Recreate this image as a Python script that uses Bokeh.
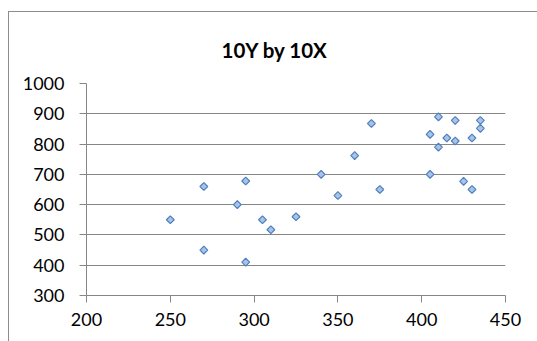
import math
from bokeh.plotting import figure
from bokeh.models import Range1d, FixedTicker
from bokeh.embed import file_html
from bokeh.resources import INLINE

title_text = "10Y by 10X"
x_vals = [250, 270, 270, 290, 295, 295, 305, 310, 325, 340, 350, 360, 370, 375,
          405, 405, 410, 410, 415, 420, 420, 425, 430, 430, 435, 435]
y_vals = [550, 660, 450, 600, 678, 410, 550, 517, 560, 700, 630, 762, 868, 650,
          832, 700, 890, 790, 820, 878, 810, 677, 820, 650, 878, 852]
x_ticks = [200, 250, 300, 350, 400, 450]
y_ticks = [300, 400, 500, 600, 700, 800, 900, 1000]

GRAY = "#868686"
FONT = "Lato"

p = figure(width=529, height=330, output_backend="svg", toolbar_location=None,
           x_range=Range1d(200, 450), y_range=Range1d(300, 1000),
           min_border_left=77, min_border_right=33, min_border_top=71, min_border_bottom=47,
           title=title_text)
p.margin = (11, 0, 0, 8)
p.styles = {"border-left": "1px solid #8c8c8c", "border-top": "1px solid #8c8c8c"}

p.title.text_font = FONT
p.title.text_font_size = "20.5px"
p.title.text_font_style = "bold"
p.title.text_color = "#000000"
p.title.align = "left"
p.title.offset = 135
p.title.standoff = 44

p.outline_line_color = None
p.background_fill_color = "white"
p.border_fill_color = "white"

for ax in (p.xaxis[0], p.yaxis[0]):
    ax.axis_line_color = GRAY
    ax.major_tick_line_color = GRAY
    ax.minor_tick_line_color = None
    ax.major_tick_in = 0
    ax.major_tick_out = 7
    ax.major_label_text_font = FONT
    ax.major_label_text_font_size = "18px"
    ax.major_label_text_color = "#000000"

p.xaxis[0].ticker = FixedTicker(ticks=x_ticks)
p.yaxis[0].ticker = FixedTicker(ticks=y_ticks)
p.xaxis[0].major_label_standoff = 10
p.yaxis[0].major_label_standoff = 15

p.xgrid.grid_line_color = None
p.ygrid.grid_line_color = GRAY
p.ygrid.ticker = FixedTicker(ticks=y_ticks)

p.scatter(x_vals, y_vals, marker="square", size=5.5, angle=math.pi / 4,
          fill_color="#a9c3e8", line_color="#4f81bd", line_width=1.2)

open("out.html", "w").write(file_html(p, INLINE))
